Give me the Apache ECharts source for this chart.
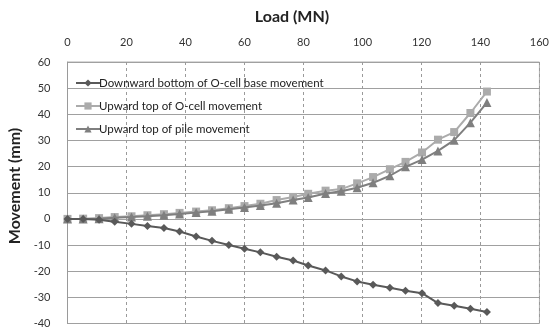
<!DOCTYPE html>
<html>
<head>
<meta charset="utf-8">
<script src="https://cdn.jsdelivr.net/npm/echarts@6/dist/echarts.min.js"></script>
<style>
  html, body { margin: 0; padding: 0; background: #fff; }
  #chart { width: 552px; height: 329px; }
</style>
</head>
<body>
<div id="chart"></div>
<script>
// Load steps of the O-cell test (MN)
const loads = [0, 5.3, 10.7, 16.0, 21.7, 27.1, 32.7, 38.0, 43.6, 49.0, 54.7, 60.0, 65.4, 70.9,
  76.5, 81.6, 87.5, 92.8, 98.2, 103.6, 109.3, 114.6, 120.2, 125.6, 131.1, 136.6, 142.2];

// Movements (mm)
const baseDown = [0, 0, -0.3, -1.1, -1.9, -2.7, -3.5, -4.8, -6.7, -8.4, -10.0, -11.4, -12.8, -14.5,
  -15.9, -17.8, -19.7, -22.0, -23.9, -25.2, -26.3, -27.5, -28.4, -32.2, -33.2, -34.4, -35.6];
const ocellUp = [0, 0.1, 0.3, 0.7, 1.0, 1.4, 1.8, 2.3, 2.8, 3.3, 4.1, 4.9, 5.8, 7.2,
  8.4, 9.6, 10.8, 11.4, 13.6, 16.0, 19.0, 21.8, 25.4, 30.3, 33.2, 40.5, 48.7];
const pileUp = [0, 0, 0.1, 0.4, 0.7, 1.0, 1.4, 1.9, 2.4, 2.9, 3.7, 4.4, 5.1, 6.0,
  7.2, 8.2, 9.7, 10.6, 11.9, 13.8, 16.5, 19.9, 22.7, 26.0, 30.1, 36.8, 44.5];

const seriesNames = [
  'Downward bottom of O-cell base movement',
  'Upward top of O-cell movement',
  'Upward top of pile movement'
];

const pairs = ys => loads.map((x, i) => [x, ys[i]]);
const font = 'Lato, "Liberation Sans", sans-serif';

const chart = echarts.init(document.getElementById('chart'));
chart.setOption({
  animation: false,
  textStyle: { fontFamily: font },
  title: {
    text: 'Load (MN)',
    left: 287, top: 4, textAlign: 'center',
    textStyle: { fontSize: 16, fontWeight: 'bold', color: '#222', fontFamily: font }
  },
  graphic: [{
    type: 'text',
    x: 15, y: 186, rotation: Math.PI / 2,
    style: {
      text: 'Movement (mm)', fill: '#222',
      font: 'bold 16px ' + font,
      textAlign: 'center', textVerticalAlign: 'middle'
    }
  }],
  legend: {
    orient: 'vertical',
    left: 70, top: 72,
    itemWidth: 24, itemHeight: 9, itemGap: 11,
    textStyle: { fontSize: 11.5, color: '#222', fontFamily: font, padding: [0, 0, 0, -6] },
    data: seriesNames
  },
  grid: {
    left: 67.5, right: 9.5, top: 62, bottom: 5.5,
    show: true, borderColor: '#b0b0b0', borderWidth: 1
  },
  xAxis: {
    type: 'value', position: 'top',
    min: 0, max: 160, interval: 20,
    axisLine: { show: false },
    axisTick: { show: false },
    axisLabel: { color: '#333', fontSize: 11, margin: 14, fontFamily: font },
    splitLine: { show: true, lineStyle: { color: '#9a9a9a', type: [3, 3], width: 1 } }
  },
  yAxis: {
    type: 'value',
    min: -40, max: 60, interval: 10,
    axisLine: { show: true, lineStyle: { color: '#9a9a9a' } },
    axisTick: { show: false },
    axisLabel: { color: '#333', fontSize: 11, margin: 17, fontFamily: font },
    splitLine: { show: true, lineStyle: { color: '#a0a0a0', width: 1 } }
  },
  series: [
    {
      name: seriesNames[0], type: 'line', data: pairs(baseDown),
      symbol: 'diamond', symbolSize: 8,
      lineStyle: { color: '#595959', width: 2 },
      itemStyle: { color: '#595959' }, z: 4
    },
    {
      name: seriesNames[1], type: 'line', data: pairs(ocellUp),
      symbol: 'rect', symbolSize: 8,
      lineStyle: { color: '#ababab', width: 2 },
      itemStyle: { color: '#ababab' }, z: 2
    },
    {
      name: seriesNames[2], type: 'line', data: pairs(pileUp),
      symbol: 'triangle', symbolSize: 9,
      lineStyle: { color: '#7f7f7f', width: 2 },
      itemStyle: { color: '#7f7f7f' }, z: 3
    }
  ]
});
</script>
</body>
</html>
